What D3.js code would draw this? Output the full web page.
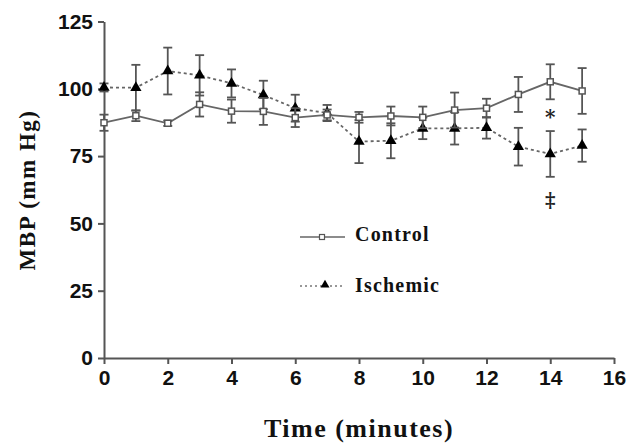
<!DOCTYPE html>
<html><head><meta charset="utf-8">
<script src="https://cdn.jsdelivr.net/npm/d3@7"></script>
<style>body{margin:0;background:#fff}svg{display:block}</style>
</head><body>
<svg id="c" width="629" height="443"></svg>
<script>
const time = [0,1,2,3,4,5,6,7,8,9,10,11,12,13,14,15];
const control = [87.4, 90.0, 87.2, 94.2, 91.7, 91.6, 89.3, 90.3, 89.4, 89.9, 89.4, 92.1, 92.8, 97.9, 102.6, 99.2];
const controlErr = [3, 2, 1, 4.5, 4.3, 5, 3.5, 2, 2, 3.5, 4, 6.5, 3.5, 6.5, 6.5, 8.5];
const ischemic = [100.5, 100.4, 106.6, 105.0, 102.0, 97.7, 92.8, 91.0, 80.4, 80.7, 85.3, 85.3, 85.5, 78.5, 75.8, 78.9];
const ischemicErr = [1.5, 8.5, 8.7, 7.5, 5.2, 5.3, 5, 3, 8, 6.5, 4, 6, 4, 7, 8.5, 6];
const xTicks = [0,2,4,6,8,10,12,14,16];
const yTicks = [0,25,50,75,100,125];
const annotations = [{t:14, v:89, s:"*"}, {t:14, v:58, s:"‡"}];

const svg = d3.select("#c");
const x = d3.scaleLinear().domain([0,16]).range([104,614]);
const y = d3.scaleLinear().domain([0,125]).range([358,21.5]);
const axisCol = "#555";

const xa = svg.append("g").attr("transform","translate(0,358)")
  .call(d3.axisBottom(x).tickValues(xTicks).tickSize(6).tickSizeOuter(0).tickPadding(6));
const ya = svg.append("g").attr("transform","translate(104,0)")
  .call(d3.axisLeft(y).tickValues(yTicks).tickSize(6).tickSizeOuter(0).tickPadding(5));
[xa,ya].forEach(a=>{
  a.selectAll("path,line").attr("stroke",axisCol).attr("stroke-width",2);
  a.selectAll("text").attr("font-family","'Liberation Sans',Arial,sans-serif")
   .attr("font-weight","bold").attr("font-size",21).attr("fill","#111");
});

svg.append("text").attr("x",359).attr("y",437).attr("text-anchor","middle")
  .attr("font-family","'Liberation Serif','Times New Roman',serif").attr("font-weight","bold")
  .attr("font-size",26).attr("letter-spacing",1.5).attr("fill","#111").text("Time (minutes)");
svg.append("text").attr("transform","translate(35,190) rotate(-90)").attr("text-anchor","middle")
  .attr("font-family","'Liberation Serif','Times New Roman',serif").attr("font-weight","bold")
  .attr("font-size",23).attr("letter-spacing",1.5).attr("fill","#111").text("MBP (mm Hg)");

const series = [
  {vals: ischemic, err: ischemicErr, dash:"3,3", marker:"tri"},
  {vals: control, err: controlErr, dash:null, marker:"sq"}
];
const line = d3.line();
series.forEach(s=>{
  const pts = time.map((t,i)=>[x(t), y(s.vals[i])]);
  svg.append("path").attr("d",line(pts)).attr("fill","none").attr("stroke","#666")
    .attr("stroke-width",1.8).attr("stroke-dasharray",s.dash);
  const g = svg.append("g").attr("stroke","#555").attr("stroke-width",1.8);
  time.forEach((t,i)=>{
    const cx=x(t), hi=y(s.vals[i]+s.err[i]), lo=y(s.vals[i]-s.err[i]);
    g.append("line").attr("x1",cx).attr("x2",cx).attr("y1",hi).attr("y2",lo);
    g.append("line").attr("x1",cx-4.5).attr("x2",cx+4.5).attr("y1",hi).attr("y2",hi);
    g.append("line").attr("x1",cx-4.5).attr("x2",cx+4.5).attr("y1",lo).attr("y2",lo);
  });
  time.forEach((t,i)=>{
    const cx=x(t), cy=y(s.vals[i]);
    if(s.marker==="tri"){
      svg.append("path").attr("d",d3.symbol().type(d3.symbolTriangle).size(55)())
        .attr("transform",`translate(${cx},${cy})`).attr("fill","#000");
    } else {
      svg.append("rect").attr("x",cx-3).attr("y",cy-3).attr("width",6).attr("height",6)
        .attr("fill","#fff").attr("stroke","#555").attr("stroke-width",1.5);
    }
  });
});

annotations.forEach(a=>{
  svg.append("text").attr("x",x(a.t)).attr("y",y(a.v)).attr("text-anchor","middle")
    .attr("dominant-baseline","middle")
    .attr("font-family","'DejaVu Serif',serif").attr("font-weight","bold")
    .attr("font-size",a.s==="*"?20:20).attr("fill","#222").text(a.s);
});

// legend
const lg = svg.append("g");
lg.append("line").attr("x1",300).attr("x2",345).attr("y1",237).attr("y2",237).attr("stroke","#666").attr("stroke-width",1.5);
lg.append("rect").attr("x",319.5).attr("y",234.5).attr("width",5).attr("height",5).attr("fill","#fff").attr("stroke","#555").attr("stroke-width",1.2);
lg.append("line").attr("x1",300).attr("x2",345).attr("y1",286).attr("y2",286).attr("stroke","#777").attr("stroke-width",1.5).attr("stroke-dasharray","2,3");
lg.append("path").attr("d",d3.symbol().type(d3.symbolTriangle).size(35)()).attr("transform","translate(325,285)").attr("fill","#000");
[["Control",236],["Ischemic",287]].forEach(([t,yy])=>{
  lg.append("text").attr("x",355).attr("y",yy).attr("dominant-baseline","middle")
    .attr("font-family","'Liberation Serif','Times New Roman',serif").attr("font-weight","bold")
    .attr("font-size",20).attr("letter-spacing",1.2).attr("fill","#111").text(t);
});
</script>
</body></html>
